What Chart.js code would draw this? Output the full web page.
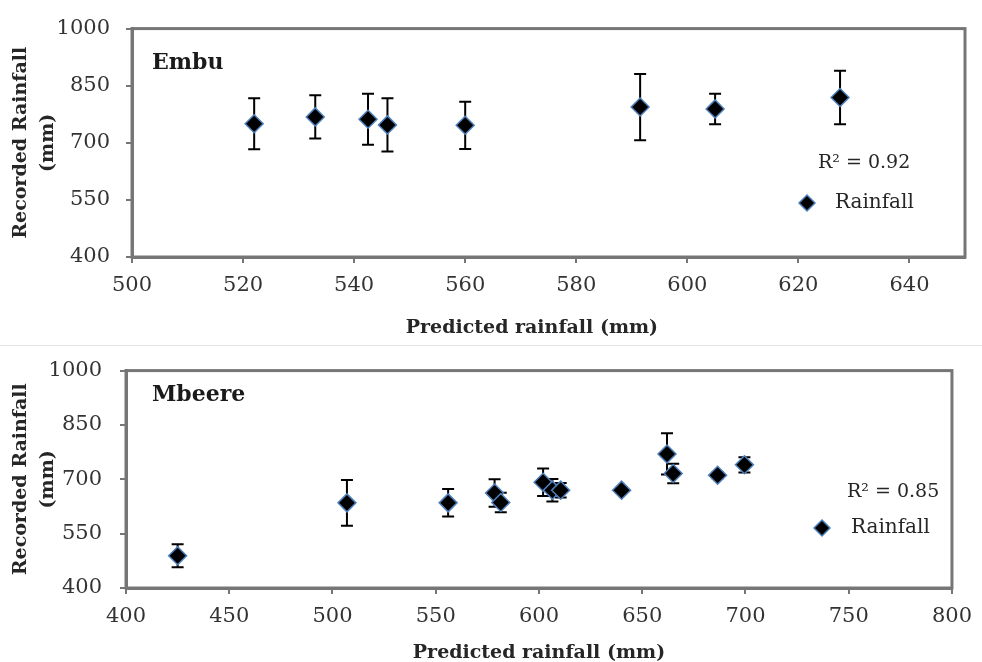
<!DOCTYPE html>
<html>
<head>
<meta charset="utf-8">
<script src="https://cdn.jsdelivr.net/npm/chart.js@4.4.0/dist/chart.umd.min.js"></script>
<style>
html,body{margin:0;padding:0;background:#fff;}
#wrap{position:relative;width:982px;height:662px;overflow:hidden;background:#fff;}
#c1{position:absolute;left:0;top:0;}
#c2{position:absolute;left:0;top:340px;}
#sep{position:absolute;left:0;top:345px;width:982px;height:1px;background:#e4e4e4;}
</style>
</head>
<body>
<div id="wrap">
<canvas id="c1" width="982" height="340"></canvas>
<div id="sep"></div>
<canvas id="c2" width="982" height="322"></canvas>
</div>
<script>
// ---- Data ----
const embuPredicted = [522, 533, 542.5, 546, 560, 591.5, 605, 627.5];
const embuRecorded  = [750, 768, 762, 747, 746, 794, 789, 819];
const embuError     = [67, 57, 67, 70, 62, 87, 40, 70];

const mbeerePredicted = [425, 507, 556, 578.5, 581.5, 602, 606.5, 610.5, 640, 662, 665, 686.5, 699.5];
const mbeereRecorded  = [489, 635, 635, 662, 636, 692, 670, 670, 670, 770, 716, 711, 740];
const mbeereError     = [32, 63, 38, 38, 27, 38, 31, 20, 8, 57, 27, 8, 21];

const yTicks = [400, 550, 700, 850, 1000];
const embuXTicks = [500, 520, 540, 560, 580, 600, 620, 640];
const mbeereXTicks = [400, 450, 500, 550, 600, 650, 700, 750, 800];

const seriesName = 'Rainfall';
const xTitle = 'Predicted rainfall (mm)';
const yTitle = ['Recorded Rainfall', '(mm)'];
const embuR2 = 'R\u00B2 = 0.92';
const mbeereR2 = 'R\u00B2 = 0.85';

// ---- Styles ----
const FONT = "'DejaVu Serif', 'Liberation Serif', serif";
const AXIS_GRAY = '#767676';
const MARKER_FILL = '#000000';
const MARKER_EDGE = '#4f81bd';

const errorBarsPlugin = {
  id: 'errorBars',
  beforeDatasetsDraw(chart, args, opts) {
    const {ctx, scales:{x, y}} = chart;
    const ds = chart.data.datasets[0];
    const errs = opts.errors || [];
    ctx.save();
    ctx.strokeStyle = opts.color || '#000';
    ctx.lineWidth = opts.width || 2;
    ds.data.forEach((p, i) => {
      const e = errs[i];
      if (e == null) return;
      const px = x.getPixelForValue(p.x);
      const yt = y.getPixelForValue(p.y + e);
      const yb = y.getPixelForValue(p.y - e);
      const h = opts.capHalf || 6;
      ctx.beginPath();
      ctx.moveTo(px, yt); ctx.lineTo(px, yb);
      ctx.moveTo(px - h, yt); ctx.lineTo(px + h, yt);
      ctx.moveTo(px - h, yb); ctx.lineTo(px + h, yb);
      ctx.stroke();
    });
    ctx.restore();
  }
};

const framePlugin = {
  id: 'frame',
  beforeDatasetsDraw(chart, args, opts) {
    const {ctx, chartArea:a} = chart;
    ctx.save();
    ctx.strokeStyle = opts.color || AXIS_GRAY;
    ctx.lineWidth = opts.width || 3;
    ctx.strokeRect(a.left, a.top, a.right - a.left, a.bottom - a.top);
    ctx.restore();
  }
};

const notesPlugin = {
  id: 'notes',
  afterDraw(chart, args, opts) {
    const {ctx} = chart;
    const ds = chart.data.datasets[0];
    ctx.save();
    ctx.textBaseline = 'middle';
    ctx.textAlign = 'left';
    // site label
    ctx.fillStyle = '#1a1a1a';
    ctx.font = "bold 22px " + FONT;
    ctx.fillText(opts.site, opts.sitePos[0], opts.sitePos[1]);
    // R^2
    ctx.font = "19px " + FONT;
    ctx.fillStyle = '#262626';
    ctx.fillText(opts.r2, opts.r2Pos[0], opts.r2Pos[1]);
    // legend
    const [lx, ly] = opts.legendPos;
    const r = 8;
    ctx.beginPath();
    ctx.moveTo(lx, ly - r); ctx.lineTo(lx + r, ly); ctx.lineTo(lx, ly + r); ctx.lineTo(lx - r, ly); ctx.closePath();
    ctx.fillStyle = ds.pointBackgroundColor;
    ctx.fill();
    ctx.strokeStyle = ds.pointBorderColor;
    ctx.lineWidth = 1.5;
    ctx.stroke();
    ctx.fillStyle = '#262626';
    ctx.font = "20px " + FONT;
    ctx.fillText(ds.label, opts.legendTextX, ly);
    ctx.restore();
  }
};

function makeChart(canvasId, xs, ys, errs, xMin, xMax, xTickList, geom, notes) {
  const pts = xs.map((v, i) => ({x: v, y: ys[i]}));
  return new Chart(document.getElementById(canvasId), {
    type: 'scatter',
    data: {
      datasets: [{
        label: seriesName,
        data: pts,
        pointStyle: 'rectRot',
        pointRadius: 9,
        pointHoverRadius: 9,
        pointBorderWidth: 1.5,
        pointBackgroundColor: MARKER_FILL,
        pointBorderColor: MARKER_EDGE,
        showLine: false
      }]
    },
    options: {
      responsive: false,
      animation: false,
      devicePixelRatio: 1,
      layout: { padding: { left: 0, top: geom.top, right: geom.right, bottom: 0 } },
      plugins: {
        legend: { display: false },
        tooltip: { enabled: false },
        errorBars: { errors: errs, capHalf: 6, width: 2, color: '#000' },
        frame: { color: AXIS_GRAY, width: 3 },
        notes: notes
      },
      scales: {
        x: {
          type: 'linear',
          min: xMin, max: xMax,
          afterBuildTicks(scale) { scale.ticks = xTickList.map(v => ({value: v})); },
          afterFit(scale) { scale.height = geom.xHeight; },
          border: { display: true, color: AXIS_GRAY, width: 3 },
          grid: { display: true, drawOnChartArea: false, tickLength: 6, color: AXIS_GRAY, lineWidth: 2 },
          ticks: { font: { family: FONT, size: 21 }, color: '#333333', padding: 10, maxRotation: 0, autoSkip: false,
                   callback: v => String(v) },
          title: { display: true, text: xTitle + ' '.repeat(geom.xTitleShiftSpaces), color: '#262626',
                   font: { family: FONT, size: 19, weight: 'bold' }, padding: { top: 0, bottom: geom.xTitlePad } }
        },
        y: {
          type: 'linear',
          min: 400, max: 1000,
          afterBuildTicks(scale) { scale.ticks = yTicks.map(v => ({value: v})); },
          afterFit(scale) { scale.width = geom.yWidth; },
          border: { display: true, color: AXIS_GRAY, width: 3 },
          grid: { display: true, drawOnChartArea: false, tickLength: 6, color: AXIS_GRAY, lineWidth: 2 },
          ticks: { font: { family: FONT, size: 21 }, color: '#333333', padding: geom.yTickPad, autoSkip: false,
                   callback: v => String(v) },
          title: { display: true, text: yTitle, color: '#262626',
                   font: { family: FONT, size: 19, weight: 'bold', lineHeight: 1.4 }, padding: { top: 8, bottom: 0 } }
        }
      }
    },
    plugins: [errorBarsPlugin, framePlugin, notesPlugin]
  });
}

makeChart('c1', embuPredicted, embuRecorded, embuError, 500, 650, embuXTicks,
  { top: 27, right: 17, xHeight: 83, yWidth: 132, yTickPad: 16, xTitlePad: 1, xTitleShiftSpaces: 5 },
  { site: 'Embu', sitePos: [152, 63], r2: embuR2, r2Pos: [818, 163], legendPos: [807, 203], legendTextX: 835 });

makeChart('c2', mbeerePredicted, mbeereRecorded, mbeereError, 400, 800, mbeereXTicks,
  { top: 19, right: 22, xHeight: 74, yWidth: 126, yTickPad: 18, xTitlePad: -2, xTitleShiftSpaces: 0 },
  { site: 'Mbeere', sitePos: [152, 55], r2: mbeereR2, r2Pos: [847, 152], legendPos: [822, 188], legendTextX: 851 });
</script>
</body>
</html>
